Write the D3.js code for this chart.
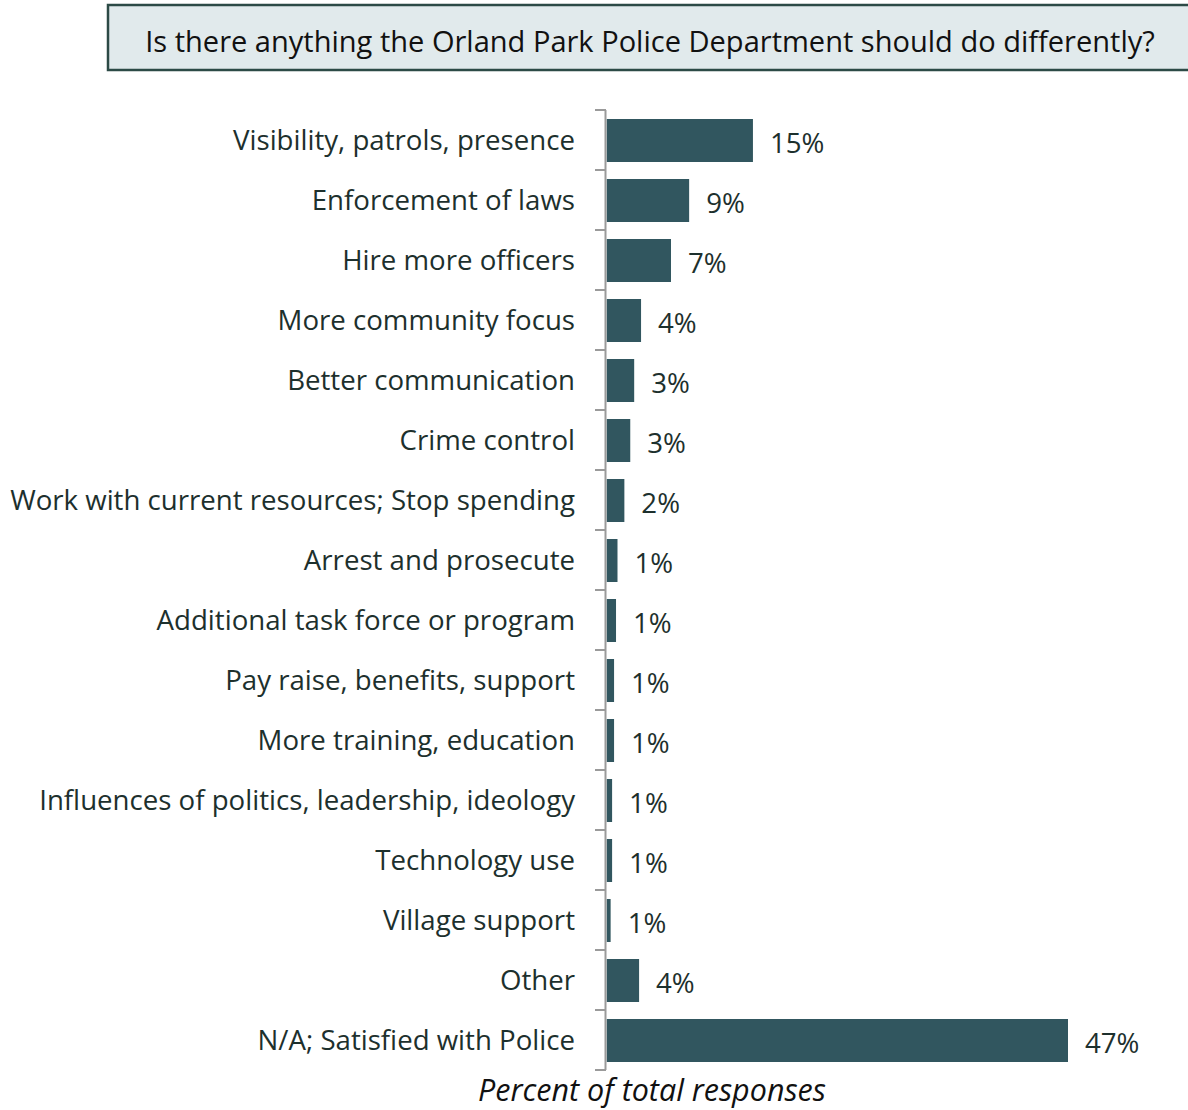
<!DOCTYPE html>
<html><head><meta charset="utf-8">
<script src="https://cdn.jsdelivr.net/npm/d3@7"></script>
<style>html,body{margin:0;padding:0;background:#fff;}svg{display:block;}</style>
</head><body>
<svg id="chart" width="1188" height="1110"></svg>
<script>
const title = "Is there anything the Orland Park Police Department should do differently?";
const categories = [
  "Visibility, patrols, presence",
  "Enforcement of laws",
  "Hire more officers",
  "More community focus",
  "Better communication",
  "Crime control",
  "Work with current resources; Stop spending",
  "Arrest and prosecute",
  "Additional task force or program",
  "Pay raise, benefits, support",
  "More training, education",
  "Influences of politics, leadership, ideology",
  "Technology use",
  "Village support",
  "Other",
  "N/A; Satisfied with Police"
];
const values = [14.9, 8.4, 6.55, 3.5, 2.8, 2.4, 1.8, 1.1, 0.95, 0.75, 0.75, 0.55, 0.55, 0.4, 3.3, 47];
const valueLabels = ["15%","9%","7%","4%","3%","3%","2%","1%","1%","1%","1%","1%","1%","1%","4%","47%"];
const axisTitle = "Percent of total responses";

const FONT = "'Open Sans', 'Noto Sans', sans-serif";
const textColor = "#1d302d";
const barColor = "#31565f";

const svg = d3.select("#chart");

function fitSize(txt, targetW, style) {
  const t = svg.append("text").attr("font-family", FONT).attr("font-size", 100).attr("font-style", style || "normal").text(txt);
  const w = t.node().getComputedTextLength();
  t.remove();
  return 100 * targetW / w;
}

const x0 = 606.7;
const x = d3.scaleLinear().domain([0, 47]).range([x0, 1068]);
const y = d3.scaleBand().domain(categories).range([110, 1070]).paddingInner(0).paddingOuter(0);

// Title box
svg.append("rect").attr("x", 108).attr("y", 5).attr("width", 1090).attr("height", 65)
  .attr("fill", "#e1eaec").attr("stroke", "#2c4a46").attr("stroke-width", 2.5);
const titleSize = fitSize(title, 1010);
svg.append("text").attr("x", 650).attr("y", 41).attr("text-anchor", "middle")
  .attr("dominant-baseline", "central")
  .attr("font-family", FONT).attr("font-size", titleSize).attr("fill", "#111")
  .text(title);

const labelSize = fitSize(categories[6], 565);

// Bars
const barPadTop = 9, barH = 43;
svg.append("g").selectAll("rect").data(values).join("rect")
  .attr("x", x(0))
  .attr("y", (d, i) => y(categories[i]) + barPadTop)
  .attr("width", d => x(d) - x(0))
  .attr("height", barH)
  .attr("fill", barColor);

// Axis line and ticks at band boundaries
const axisG = svg.append("g").attr("stroke", "#9a9a9a").attr("stroke-width", 2);
axisG.append("line").attr("x1", 605.5).attr("x2", 605.5).attr("y1", y.range()[0]).attr("y2", y.range()[1]);
const boundaries = categories.map(c => y(c)).concat([y.range()[1]]);
axisG.selectAll("line.tick").data(boundaries).join("line").attr("class", "tick")
  .attr("x1", 595).attr("x2", 606).attr("y1", d => d).attr("y2", d => d);

// Category labels
svg.append("g").selectAll("text").data(categories).join("text")
  .attr("x", 575)
  .attr("y", d => y(d) + y.bandwidth() / 2)
  .attr("dy", "0.35em")
  .attr("text-anchor", "end")
  .attr("font-family", FONT).attr("font-size", labelSize).attr("fill", textColor)
  .text(d => d);

// Value labels
svg.append("g").selectAll("text").data(values).join("text")
  .attr("x", d => x(d) + 17)
  .attr("y", (d, i) => y(categories[i]) + y.bandwidth() / 2 + 3)
  .attr("dy", "0.35em")
  .attr("font-family", FONT).attr("font-size", labelSize).attr("fill", textColor)
  .text((d, i) => valueLabels[i]);

// Axis title
const capSize = fitSize(axisTitle, 348, "italic");
svg.append("text").attr("x", 652).attr("y", 1101)
  .attr("text-anchor", "middle").attr("font-style", "italic")
  .attr("font-family", FONT).attr("font-size", capSize).attr("fill", "#111")
  .text(axisTitle);
</script>
</body></html>
